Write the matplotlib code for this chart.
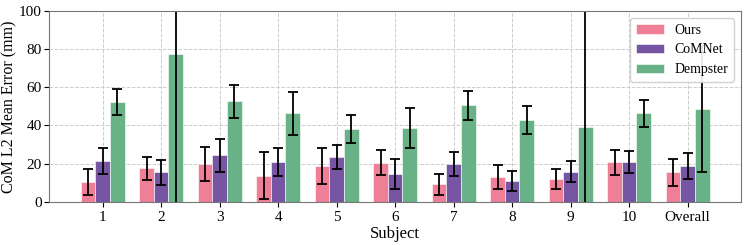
import numpy as np
import matplotlib
matplotlib.use("Agg")
import matplotlib.pyplot as plt

plt.rcParams["font.family"] = ["Liberation Serif", "DejaVu Serif"]

subjects = ["1", "2", "3", "4", "5", "6", "7", "8", "9", "10", "Overall"]

ours_mean = [10.2, 17.5, 19.6, 13.5, 18.7, 20.5, 9.1, 12.8, 11.7, 20.7, 15.4]
ours_err = [6.7, 5.9, 8.9, 12.3, 9.7, 6.6, 5.4, 6.4, 5.3, 6.6, 7.2]

comnet_mean = [21.2, 15.4, 24.3, 20.7, 23.6, 14.7, 19.8, 11.0, 15.7, 20.7, 18.7]
comnet_err = [6.9, 6.5, 8.8, 7.4, 6.3, 7.9, 6.4, 5.2, 5.6, 5.8, 6.7]

dempster_mean = [52.4, 77.4, 52.6, 46.3, 38.1, 38.6, 50.5, 42.7, 39.2, 46.3, 48.4]
dempster_err = [6.8, 90.0, 8.7, 11.2, 7.2, 10.3, 7.6, 7.4, 75.0, 6.9, 33.0]

series = [
	("Ours", ours_mean, ours_err, "#ee7f96"),
	("CoMNet", comnet_mean, comnet_err, "#7656a2"),
	("Dempster", dempster_mean, dempster_err, "#69b187"),
]

fig, ax = plt.subplots(figsize=(7.47, 2.45), dpi=100)
fig.subplots_adjust(left=0.066, right=0.992, top=0.955, bottom=0.177)

x = np.arange(len(subjects))
width = 0.25
for i, (name, mean, err, color) in enumerate(series):
	ax.bar(x + (i - 1) * width, mean, width, yerr=err, label=name, color=color,
		edgecolor="white", linewidth=0.4, capsize=3.5,
		error_kw=dict(elinewidth=1.3, capthick=1.3, ecolor="black"), zorder=2)

ax.set_ylim(0, 100)
ax.set_xticks(x)
ax.set_xticklabels(subjects, fontsize=11)
ax.tick_params(axis="y", labelsize=11, pad=2)
ax.set_xlabel("Subject", fontsize=12, labelpad=1)
ax.set_ylabel("CoM L2 Mean Error (mm)", fontsize=11.5, labelpad=1)
ax.grid(True, linestyle="--", color="#cccccc", linewidth=0.7, zorder=0)
ax.set_axisbelow(True)
for sp in ax.spines.values():
	sp.set_color("#777777")
ax.legend(loc="upper right", fontsize=10, framealpha=0.9)

fig.savefig("out.png", dpi=100)
